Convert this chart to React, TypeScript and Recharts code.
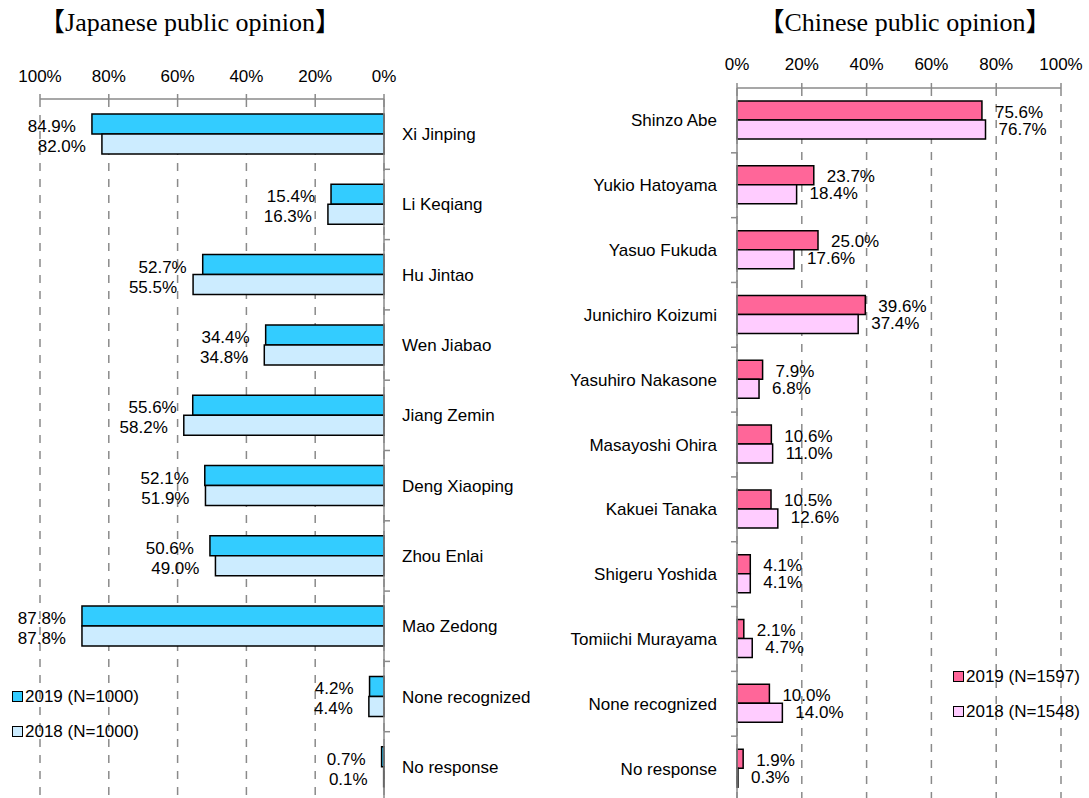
import React from 'react';
import { BarChart, Bar, XAxis, YAxis, CartesianGrid, LabelList, Legend } from 'recharts';

const jpCategories = ['Xi Jinping', 'Li Keqiang', 'Hu Jintao', 'Wen Jiabao', 'Jiang Zemin', 'Deng Xiaoping', 'Zhou Enlai', 'Mao Zedong', 'None recognized', 'No response'];
const jp2019 = [84.9, 15.4, 52.7, 34.4, 55.6, 52.1, 50.6, 87.8, 4.2, 0.7];
const jp2018 = [82.0, 16.3, 55.5, 34.8, 58.2, 51.9, 49.0, 87.8, 4.4, 0.1];

const cnCategories = ['Shinzo Abe', 'Yukio Hatoyama', 'Yasuo Fukuda', 'Junichiro Koizumi', 'Yasuhiro Nakasone', 'Masayoshi Ohira', 'Kakuei Tanaka', 'Shigeru Yoshida', 'Tomiichi Murayama', 'None recognized', 'No response'];
const cn2019 = [75.6, 23.7, 25.0, 39.6, 7.9, 10.6, 10.5, 4.1, 2.1, 10.0, 1.9];
const cn2018 = [76.7, 18.4, 17.6, 37.4, 6.8, 11.0, 12.6, 4.1, 4.7, 14.0, 0.3];

const pctTicks = [0, 20, 40, 60, 80, 100];

const jpTitle = '【Japanese public opinion】';
const cnTitle = '【Chinese public opinion】';

const jpSeries = [
  { key: 'y2019', name: '2019 (N=1000)', color: '#33CCFF' },
  { key: 'y2018', name: '2018 (N=1000)', color: '#CCECFF' },
];
const cnSeries = [
  { key: 'y2019', name: '2019 (N=1597)', color: '#FF6699' },
  { key: 'y2018', name: '2018 (N=1548)', color: '#FFCCFF' },
];

const jpData = jpCategories.map((name, i) => ({ name, y2019: jp2019[i], y2018: jp2018[i] }));
const cnData = cnCategories.map((name, i) => ({ name, y2019: cn2019[i], y2018: cn2018[i] }));

const FONT = '"Liberation Sans", Arial, sans-serif';
const SERIF = '"Liberation Serif", "Times New Roman", "Noto Sans CJK JP", serif';
const FS = 17;
const AXIS_GRAY = '#8a8a8a';

const fmt = (v: number) => `${v.toFixed(1)}%`;

const makeLeftLabel = (dy: number) => (props: any) => {
  const { x, y, width, height, value } = props;
  const end = Math.min(Number(x), Number(x) + Number(width));
  const cy = Number(y) + Number(height) / 2;
  return (
    <text x={end - 16} y={cy + dy} textAnchor="end" fontFamily={FONT} fontSize={FS} fill="#000">
      {fmt(Number(value))}
    </text>
  );
};

const makeRightLabel = (dy: number) => (props: any) => {
  const { x, y, width, height, value } = props;
  const end = Math.max(Number(x), Number(x) + Number(width));
  const cy = Number(y) + Number(height) / 2;
  return (
    <text x={end + 13} y={cy + dy} textAnchor="start" fontFamily={FONT} fontSize={FS} fill="#000">
      {fmt(Number(value))}
    </text>
  );
};

const JpTick = (props: any) => {
  const { x, y, payload } = props;
  const off = payload && payload.offset ? payload.offset : 0;
  const ax = x - 18;
  return (
    <g>
      <text x={x} y={y + 6} textAnchor="start" fontFamily={FONT} fontSize={FS} fill="#000">
        {payload.value}
      </text>
      <line x1={ax} x2={ax + 6} y1={y + off} y2={y + off} stroke={AXIS_GRAY} strokeWidth={1.5} />
    </g>
  );
};

const CnTick = (props: any) => {
  const { x, y, payload } = props;
  const off = payload && payload.offset ? payload.offset : 0;
  const ax = x + 20;
  return (
    <g>
      <text x={x} y={y + 6} textAnchor="end" fontFamily={FONT} fontSize={FS} fill="#000">
        {payload.value}
      </text>
      <line x1={ax - 6} x2={ax} y1={y + off} y2={y + off} stroke={AXIS_GRAY} strokeWidth={1.5} />
    </g>
  );
};

const LegendBox = ({ series }: { series: { key: string; name: string; color: string }[] }) => (
  <div style={{ fontFamily: FONT, fontSize: FS, color: '#000' }}>
    {series.map((s) => (
      <div key={s.key} style={{ display: 'flex', alignItems: 'center', height: 35 }}>
        <span
          style={{
            display: 'inline-block',
            width: 9,
            height: 9,
            background: s.color,
            border: '1.5px solid #000',
            marginRight: 2,
          }}
        />
        <span>{s.name}</span>
      </div>
    ))}
  </div>
);

export default function App() {
  return (
    <div style={{ position: 'absolute', left: 0, top: 0, width: 1089, height: 798, overflow: 'hidden', background: '#fff' }}>
      <div style={{ position: 'absolute', left: 0, top: 0 }}>
        <BarChart
          layout="vertical"
          width={560}
          height={802}
          data={jpData}
          margin={{ top: 68, right: 10, bottom: 0, left: 40 }}
          barGap={0}
        >
          <CartesianGrid horizontal={false} vertical stroke={AXIS_GRAY} strokeDasharray="8 8" strokeWidth={1.5} />
          <XAxis
            type="number"
            domain={[0, 100]}
            ticks={pctTicks}
            interval={0}
            reversed
            orientation="top"
            height={31}
            tickFormatter={(v: number) => `${v}%`}
            axisLine={{ stroke: AXIS_GRAY, strokeWidth: 1.5 }}
            tickLine={{ stroke: AXIS_GRAY, strokeWidth: 1.5 }}
            tickSize={5}
            tickMargin={12}
            tick={{ fill: '#000', fontSize: FS, fontFamily: FONT }}
          />
          <YAxis
            type="category"
            dataKey="name"
            orientation="right"
            width={166}
            interval={0}
            axisLine={{ stroke: AXIS_GRAY, strokeWidth: 1.5 }}
            tickLine={false}
            tickSize={6}
            tickMargin={12}
            tick={(p: any) => <JpTick {...p} />}
          />
          <Legend
            layout="vertical"
            align="center"
            verticalAlign="middle"
            wrapperStyle={{ left: 12, top: 679, width: 'auto' }}
            content={() => <LegendBox series={jpSeries} />}
          />
          <Bar dataKey="y2019" name={jpSeries[0].name} fill={jpSeries[0].color} stroke="#000" strokeWidth={1.5} barSize={20} isAnimationActive={false}>
            <LabelList dataKey="y2019" content={makeLeftLabel(8)} />
          </Bar>
          <Bar dataKey="y2018" name={jpSeries[1].name} fill={jpSeries[1].color} stroke="#000" strokeWidth={1.5} barSize={20} isAnimationActive={false}>
            <LabelList dataKey="y2018" content={makeLeftLabel(8)} />
          </Bar>
        </BarChart>
      </div>

      <div style={{ position: 'absolute', left: 560, top: 0 }}>
        <BarChart
          layout="vertical"
          width={529}
          height={802}
          data={cnData}
          margin={{ top: 57, right: 28, bottom: 1, left: 0 }}
          barGap={0}
        >
          <CartesianGrid horizontal={false} vertical stroke={AXIS_GRAY} strokeDasharray="8 8" strokeWidth={1.5} />
          <XAxis
            type="number"
            domain={[0, 100]}
            ticks={pctTicks}
            interval={0}
            orientation="top"
            height={31}
            tickFormatter={(v: number) => `${v}%`}
            axisLine={{ stroke: AXIS_GRAY, strokeWidth: 1.5 }}
            tickLine={{ stroke: AXIS_GRAY, strokeWidth: 1.5 }}
            tickSize={5}
            tickMargin={13}
            tick={{ fill: '#000', fontSize: FS, fontFamily: FONT }}
          />
          <YAxis
            type="category"
            dataKey="name"
            orientation="left"
            width={177}
            interval={0}
            axisLine={{ stroke: AXIS_GRAY, strokeWidth: 1.5 }}
            tickLine={false}
            tickSize={6}
            tickMargin={14}
            tick={(p: any) => <CnTick {...p} />}
          />
          <Legend
            layout="vertical"
            align="center"
            verticalAlign="middle"
            wrapperStyle={{ left: 393, top: 659, width: 'auto' }}
            content={() => <LegendBox series={cnSeries} />}
          />
          <Bar dataKey="y2019" name={cnSeries[0].name} fill={cnSeries[0].color} stroke="#000" strokeWidth={1.5} barSize={19} isAnimationActive={false}>
            <LabelList dataKey="y2019" content={makeRightLabel(7)} />
          </Bar>
          <Bar dataKey="y2018" name={cnSeries[1].name} fill={cnSeries[1].color} stroke="#000" strokeWidth={1.5} barSize={19} isAnimationActive={false}>
            <LabelList dataKey="y2018" content={makeRightLabel(5)} />
          </Bar>
        </BarChart>
      </div>

      <svg width={1089} height={48} style={{ position: 'absolute', left: 0, top: 0, pointerEvents: 'none' }}>
        <text x={190} y={31} textAnchor="middle" fontFamily={SERIF} fontSize={26} fill="#000">
          {jpTitle}
        </text>
        <text x={905} y={31} textAnchor="middle" fontFamily={SERIF} fontSize={26} fill="#000">
          {cnTitle}
        </text>
      </svg>
    </div>
  );
}
